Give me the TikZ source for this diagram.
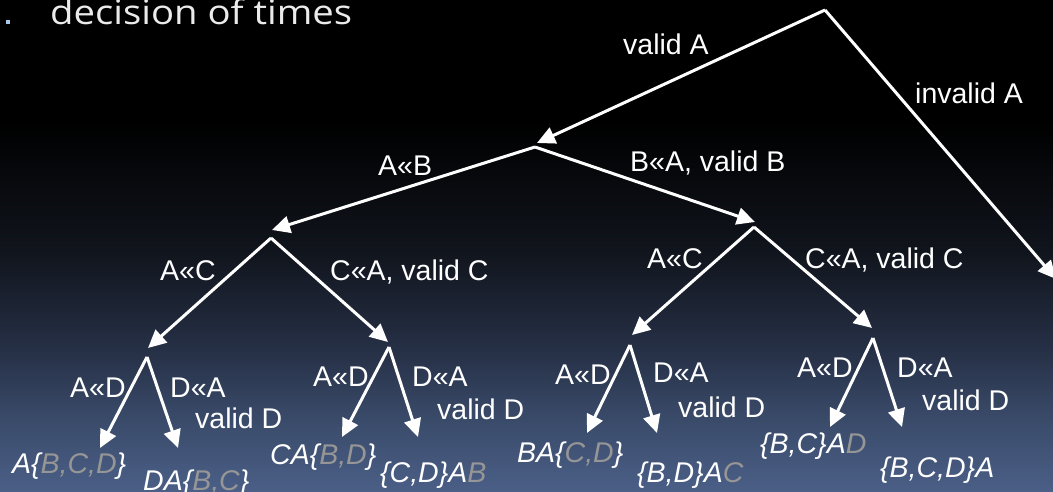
\documentclass[tikz,border=0pt]{standalone}
\usepackage{fontspec}
\setmainfont{Liberation Sans}
\newfontfamily\titlefont{Open Sans}
\usetikzlibrary{arrows.meta}
\definecolor{bgbot}{RGB}{75,95,135}
\definecolor{bgc1}{RGB}{58,75,106}
\definecolor{bgc2}{RGB}{38,48,70}
\definecolor{bgc3}{RGB}{16,20,28}
\definecolor{bgtop}{RGB}{0,0,0}
\definecolor{lg}{RGB}{150,150,150}
\definecolor{bullet}{RGB}{170,200,230}
\pgfdeclareverticalshading{bgshade}{100bp}{color(0bp)=(bgbot); color(25bp)=(bgbot); color(32.3bp)=(bgc1); color(39.4bp)=(bgc2); color(49.6bp)=(bgc3); color(62.8bp)=(bgtop); color(75bp)=(bgtop); color(100bp)=(bgtop)}
\tikzset{
  lbl/.style={text=white, font=\fontsize{28.5}{30}\selectfont, inner sep=0pt, anchor=base west},
  leaf/.style={lbl, font=\fontsize{28.5}{30}\selectfont\itshape},
  arr/.style={draw=white, line width=3pt, -{Triangle[length=18pt,width=17pt]}}
}
\begin{document}
\begin{tikzpicture}[x=1pt,y=-1pt]
\useasboundingbox (0,0) rectangle (1053,492);
\shade[shading=bgshade] (0,0) rectangle (1053,492);
% title
\fill[bullet] (6,20) rectangle (10,24);
\node[text=white!92!black, inner sep=0pt, anchor=base west] (title) at (50,25)
  {\resizebox{302pt}{\height}{\titlefont\fontsize{34}{36}\selectfont decision of times}};
% tree coordinates
\coordinate (R) at (825,10);
\coordinate (N1) at (535,147); \coordinate (N1in) at (537,143);
\coordinate (X) at (1056,279);
\coordinate (N2) at (271,238); \coordinate (N2in) at (272,230);
\coordinate (N3) at (754,227); \coordinate (N3in) at (755,222);
\coordinate (L1) at (147,357); \coordinate (L1in) at (148,348);
\coordinate (L2) at (389,347); \coordinate (L2in) at (388,342);
\coordinate (L3) at (630,345); \coordinate (L3in) at (632,335);
\coordinate (L4) at (873,338); \coordinate (L4in) at (872,328);
\coordinate (a1) at (100,448); \coordinate (a2) at (178,448);
\coordinate (b1) at (342,437); \coordinate (b2) at (418,437);
\coordinate (c1) at (587,433); \coordinate (c2) at (657,433);
\coordinate (d1) at (830,427); \coordinate (d2) at (902,427);
% connectors
\draw[arr] (R) -- (N1in);
\draw[arr] (R) -- (X);
\draw[arr] (N1) -- (N2in);
\draw[arr] (N1) -- (N3in);
\draw[arr] (N2) -- (L1in);
\draw[arr] (N2) -- (L2in);
\draw[arr] (N3) -- (L3in);
\draw[arr] (N3) -- (L4in);
\draw[arr] (L1) -- (a1); \draw[arr] (L1) -- (a2);
\draw[arr] (L2) -- (b1); \draw[arr] (L2) -- (b2);
\draw[arr] (L3) -- (c1); \draw[arr] (L3) -- (c2);
\draw[arr] (L4) -- (d1); \draw[arr] (L4) -- (d2);
% edge labels
\node[lbl] (tA) at (623,55) {valid A};
\node[lbl] (tIA) at (915,104) {invalid A};
\node[lbl] (tAB) at (378,176) {A«B};
\node[lbl] (tBA) at (630,172) {B«A, valid B};
\node[lbl] (tAC1) at (160,280) {A«C};
\node[lbl] (tCA1) at (330,280) {C«A, valid C};
\node[lbl] (tAC2) at (647,268) {A«C};
\node[lbl] (tCA2) at (805,268) {C«A, valid C};
\node[lbl] (tAD1) at (70,397) {A«D};
\node[lbl] (tDA1) at (170,397) {D«A};
\node[lbl] (tVD1) at (195,428) {valid D};
\node[lbl] (tAD2) at (313,386) {A«D};
\node[lbl] (tDA2) at (412,386) {D«A};
\node[lbl] (tVD2) at (437,419) {valid D};
\node[lbl] (tAD3) at (555,384) {A«D};
\node[lbl] (tDA3) at (653,382) {D«A};
\node[lbl] (tVD3) at (678,417) {valid D};
\node[lbl] (tAD4) at (797,377) {A«D};
\node[lbl] (tDA4) at (897,377) {D«A};
\node[lbl] (tVD4) at (922,410) {valid D};
% leaves
\node[leaf] (f1) at (12,473) {A\{\textcolor{lg}{B,C,D}\}};
\node[leaf] (f2) at (143,490) {DA\{\textcolor{lg}{B,C}\}};
\node[leaf] (f3) at (270,464) {CA\{\textcolor{lg}{B,D}\}};
\node[leaf] (f4) at (380,482) {\{C,D\}A\textcolor{lg}{B}};
\node[leaf] (f5) at (517,462) {BA\{\textcolor{lg}{C,D}\}};
\node[leaf] (f6) at (637,482) {\{B,D\}A\textcolor{lg}{C}};
\node[leaf] (f7) at (760,453) {\{B,C\}A\textcolor{lg}{D}};
\node[leaf] (f8) at (880,477) {\{B,C,D\}A};
\end{tikzpicture}
\end{document}
